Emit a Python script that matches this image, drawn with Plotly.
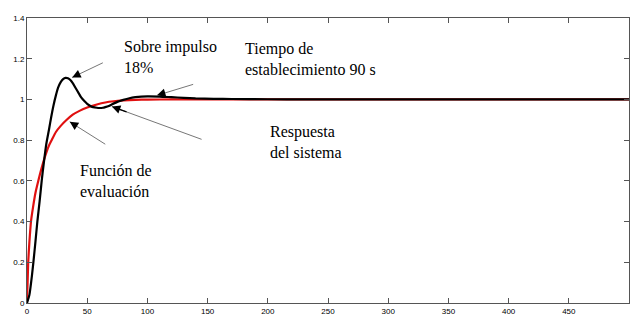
import plotly.graph_objects as go

# System response (black)
resp_t = [0, 2, 4, 5.3, 7, 8.6, 10.5, 12.2, 14, 16, 18.5, 20, 22, 24, 26, 28, 30, 32, 34, 36, 38, 40, 43, 45, 48, 50, 53, 55, 58, 60, 63, 65, 68, 70, 75, 80, 85, 90, 95, 100, 110, 120, 130, 140, 155, 170, 200, 230, 300, 400, 500]
resp_y = [0, 0.04, 0.13, 0.2, 0.3, 0.4, 0.5, 0.6, 0.69, 0.78, 0.86, 0.91, 0.97, 1.02, 1.06, 1.085, 1.1, 1.106, 1.104, 1.095, 1.08, 1.06, 1.03, 1.01, 0.99, 0.978, 0.967, 0.962, 0.959, 0.958, 0.959, 0.962, 0.968, 0.974, 0.988, 0.998, 1.006, 1.011, 1.014, 1.015, 1.014, 1.011, 1.008, 1.005, 1.003, 1.002, 1.001, 1.0, 1.0, 1.0, 1.0]

# Evaluation function (red)
eval_t = [0, 0.5, 1, 2, 3.3, 5, 7, 9.4, 12, 15, 18, 20.5, 24, 28, 33, 38, 44, 50, 58, 65, 72, 80, 90, 100, 120, 150, 200, 300, 400, 500]
eval_y = [0.02, 0.1, 0.2, 0.3, 0.4, 0.47, 0.54, 0.6, 0.66, 0.72, 0.77, 0.8, 0.84, 0.87, 0.9, 0.925, 0.945, 0.96, 0.975, 0.985, 0.991, 0.995, 0.998, 0.999, 1.0, 1.0, 1.0, 1.0, 1.0, 1.0]

x_ticks = [0, 50, 100, 150, 200, 250, 300, 350, 400, 450, 500]
y_ticks = [0, 0.2, 0.4, 0.6, 0.8, 1, 1.2, 1.4]
y_tick_labels = ["0", "0.2", "0.4", "0.6", "0.8", "1", "1.2", "1.4"]

# annotations: text, position (data)
labels = [
    ("Sobre impulso<br>18%", 79, 1.21),
    ("Tiempo de<br>establecimiento 90 s", 179, 1.2),
    ("Respuesta<br>del sistema", 200, 0.79),
    ("Función de<br>evaluación", 42, 0.6),
]
# arrows: (tail_x, tail_y, head_x, head_y) in data units
arrows = [
    (63, 1.18, 37.5, 1.108),
    (138, 1.074, 108, 1.02),
    (145, 0.804, 70.5, 0.965),
    (65, 0.78, 35.5, 0.89),
]

SERIF = "'Liberation Serif', 'Times New Roman', serif"
SANS = "'Liberation Sans', Arial, sans-serif"

fig = go.Figure()
fig.add_trace(go.Scatter(x=eval_t, y=eval_y, mode="lines", line=dict(color="#e01010", width=2.2, shape="spline", smoothing=0.6), showlegend=False))
fig.add_trace(go.Scatter(x=resp_t, y=resp_y, mode="lines", line=dict(color="black", width=2.2, shape="spline", smoothing=0.6), showlegend=False))

for (tx, ty, hx, hy) in arrows:
    fig.add_shape(type="line", x0=tx, y0=ty, x1=hx, y1=hy, xref="x", yref="y",
                  line=dict(color="#777777", width=1))
    fig.add_annotation(x=hx, y=hy, ax=hx + (tx - hx) * 0.18, ay=hy + (ty - hy) * 0.18,
                       axref="x", ayref="y", xref="x", yref="y", text="",
                       showarrow=True, arrowhead=2, arrowsize=1.3, arrowwidth=1.3, arrowcolor="black")

for (txt, x, y) in labels:
    fig.add_annotation(x=x, y=y, xref="x", yref="y", text=txt, showarrow=False,
                       xanchor="left", yanchor="middle", align="left",
                       font=dict(family=SERIF, size=16, color="black"))

axis_common = dict(showgrid=False, zeroline=False, showline=True, linecolor="#555555", linewidth=1,
                   mirror="ticks", ticks="inside", ticklen=5, tickcolor="#555555", automargin=False,
                   tickfont=dict(family=SANS, size=8, color="black"))
fig.update_xaxes(range=[0, 500], tickvals=x_ticks, ticktext=[str(v) for v in x_ticks], **axis_common)
fig.update_yaxes(range=[0, 1.4], tickvals=y_ticks, ticktext=y_tick_labels, **axis_common)

fig.update_layout(width=633, height=316, margin=dict(l=27, r=4, t=18, b=13),
                  plot_bgcolor="white", paper_bgcolor="white")
fig.write_html("out.html", config={"displayModeBar": False},
               post_script="document.body.style.margin='0';document.body.style.overflow='hidden';")
